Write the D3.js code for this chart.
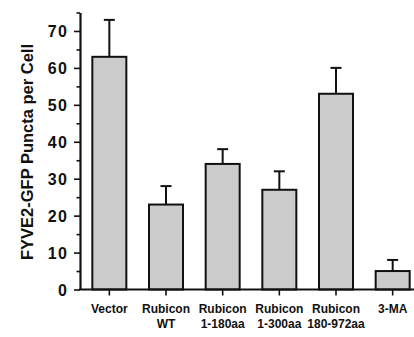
<!DOCTYPE html>
<html>
<head>
<meta charset="utf-8">
<script src="https://cdn.jsdelivr.net/npm/d3@7"></script>
<style>
  body { margin: 0; background: #fff; }
  text { font-family: "Liberation Sans", Arial, sans-serif; font-weight: bold; }
</style>
</head>
<body>
<div id="chart"></div>
<script>
var categories = ["Vector", "Rubicon\nWT", "Rubicon\n1-180aa", "Rubicon\n1-300aa", "Rubicon\n180-972aa", "3-MA"];
var means = [63, 23, 34, 27, 53, 5];
var errors = [10, 5, 4, 5, 7, 3];
var majorTicks = [0, 10, 20, 30, 40, 50, 60, 70];
var minorTicks = [5, 15, 25, 35, 45, 55, 65, 75];

var svgW = 414, svgH = 337;

var svg = d3.select("#chart")
            .append("svg")
            .attr("width", svgW)
            .attr("height", svgH);

var xScale = d3.scaleBand()
               .domain(categories)
               .range([81, 421])
               .paddingInner(0.4)
               .paddingOuter(0.2);

var yScale = d3.scaleLinear()
               .domain([0, 75])
               .range([289.5, 12.5]);

// bars
svg.selectAll("rect.bar")
   .data(means)
   .enter()
   .append("rect")
   .attr("class", "bar")
   .attr("x", (d, i) => xScale(categories[i]))
   .attr("y", d => yScale(d))
   .attr("width", xScale.bandwidth())
   .attr("height", d => yScale(0) - yScale(d))
   .attr("fill", "#cbcbcb")
   .attr("stroke", "#111")
   .attr("stroke-width", 2);

// error bars
var eb = svg.selectAll("g.err")
            .data(means)
            .enter()
            .append("g")
            .attr("class", "err")
            .attr("stroke", "#111")
            .attr("stroke-width", 2);

eb.append("line")
  .attr("x1", (d, i) => xScale(categories[i]) + xScale.bandwidth() / 2)
  .attr("x2", (d, i) => xScale(categories[i]) + xScale.bandwidth() / 2)
  .attr("y1", d => yScale(d))
  .attr("y2", (d, i) => yScale(d + errors[i]));

eb.append("line")
  .attr("x1", (d, i) => xScale(categories[i]) + xScale.bandwidth() / 2 - 5.5)
  .attr("x2", (d, i) => xScale(categories[i]) + xScale.bandwidth() / 2 + 5.5)
  .attr("y1", (d, i) => yScale(d + errors[i]))
  .attr("y2", (d, i) => yScale(d + errors[i]));

// y axis
var leftAxis = d3.axisLeft(yScale)
                 .tickValues(majorTicks)
                 .tickSize(6)
                 .tickPadding(6)
                 .tickSizeOuter(0);

var yAxis = svg.append("g")
               .attr("transform", "translate(80,0)")
               .call(leftAxis);
yAxis.select(".domain").attr("stroke", "#111").attr("stroke-width", 2.2);
yAxis.selectAll(".tick line").attr("stroke", "#111").attr("stroke-width", 1.6);
yAxis.selectAll(".tick text")
     .attr("font-size", 16)
     .attr("letter-spacing", 1.2)
     .attr("fill", "#111")
     .attr("dy", "0.36em");

var minorAxis = svg.append("g")
                   .attr("transform", "translate(80,0)")
                   .call(d3.axisLeft(yScale).tickValues(minorTicks).tickSize(3.5).tickFormat("").tickSizeOuter(0));
minorAxis.select(".domain").remove();
minorAxis.selectAll(".tick line").attr("stroke", "#111").attr("stroke-width", 1.6);

// x axis
var bottomAxis = d3.axisBottom(xScale)
                   .tickSize(6)
                   .tickSizeOuter(0)
                   .tickFormat("");

var xAxis = svg.append("g")
               .attr("transform", `translate(0, ${yScale(0)})`)
               .call(bottomAxis);
xAxis.select(".domain").attr("d", "M79,0H414").attr("stroke", "#111").attr("stroke-width", 2.2);
xAxis.selectAll(".tick line").attr("stroke", "#111").attr("stroke-width", 1.6);

// x labels, two lines
var labels = svg.selectAll("text.xlab")
                .data(categories)
                .enter()
                .append("text")
                .attr("class", "xlab")
                .attr("text-anchor", "middle")
                .attr("font-size", 12)
                .attr("fill", "#111")
                .attr("x", d => xScale(d) + xScale.bandwidth() / 2)
                .attr("y", 313);

labels.each(function(d) {
    var parts = d.split("\n");
    var t = d3.select(this);
    parts.forEach((p, j) => {
        t.append("tspan")
         .attr("x", xScale(d) + xScale.bandwidth() / 2)
         .attr("dy", j == 0 ? 0 : 15)
         .text(p);
    });
});

// y title
svg.append("text")
   .attr("transform", "translate(33,152) rotate(-90)")
   .attr("text-anchor", "middle")
   .attr("font-size", 16.5)
   .attr("fill", "#111")
   .text("FYVE2-GFP Puncta per Cell");
</script>
</body>
</html>
